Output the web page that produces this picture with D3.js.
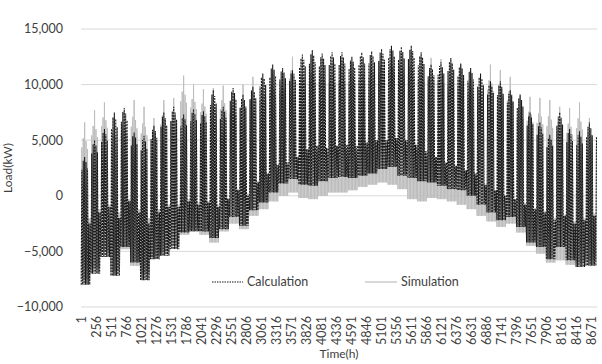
<!DOCTYPE html>
<html><head><meta charset="utf-8">
<script src="https://cdn.jsdelivr.net/npm/d3@7"></script>
<style>body{margin:0;background:#fff} text{font-family:Lato,"Open Sans",sans-serif;fill:#404040}</style>
</head><body><svg id="c" width="602" height="364"></svg>
<script>
// Weekly envelopes (kW), 52 weeks
const calcHigh=[3500,5000,6000,7500,7900,5700,5400,6300,7500,8000,7300,7800,7600,9500,8000,9700,9100,9800,11000,11800,11500,11300,12700,13100,12800,12900,12900,12500,12900,13000,13200,13500,13400,13500,12900,11800,12000,12400,11900,11500,11000,10300,10300,9500,9100,7500,6600,5500,7500,6000,5800,6600];
const calcLow=[-8000,-7000,-5500,-7200,-4600,-6000,-7600,-5700,-5400,-4800,-3300,-3200,-3200,-3800,-3000,-1900,-2700,-1300,-600,300,1100,1500,1000,900,1300,1600,1700,1600,1800,2000,2400,2600,1800,1600,1300,1200,900,600,500,0,-800,-1500,-2200,-1900,-2800,-4200,-4600,-5700,-4600,-5800,-6400,-6300];
const calcWkd=[-2500,-1500,-1000,-2000,-500,-1500,-2500,-1500,-1000,-1000,-500,-800,-600,-1000,-300,500,0,1200,2000,2800,3000,3500,4200,4500,4300,4500,4600,4500,4800,5000,5000,5200,5000,4600,4000,3500,3000,2700,2300,2000,1000,500,0,-300,-800,-1200,-1500,-2200,-1800,-2500,-2200,-1800];
const simHigh=[6600,7700,8400,7000,7600,8600,8000,7000,8600,8800,10800,10000,9600,9700,9900,9300,10000,10700,10500,11000,11000,12500,12000,12300,12300,12000,12200,12000,12300,12500,12800,13000,13000,13000,12500,12400,12300,11800,11800,11200,10800,11800,11300,10700,9000,8900,8800,8600,8000,7900,8400,7000];
const simLow=[-7500,-6500,-5000,-6800,-4800,-6300,-7000,-5500,-5000,-4500,-3500,-3000,-3500,-4200,-3200,-2500,-3000,-1800,-1200,-500,0,300,-200,-300,0,300,300,500,800,1000,1200,1000,600,-300,-500,-200,-300,-500,-800,-1200,-1800,-2300,-2800,-2500,-3300,-4500,-5200,-6000,-5800,-6200,-6000,-5800];
const simWkd=[-2000,-1200,-800,-1500,-300,-1200,-2000,-1200,-800,-800,-300,-600,-500,-800,-200,600,200,1300,2000,2600,2800,3200,3800,4000,3900,4100,4200,4100,4400,4600,4600,4800,4600,4200,3600,3200,2800,2500,2100,1800,900,400,0,-300,-700,-1100,-1400,-2000,-1700,-2300,-2000,-1600];
// weekday share of the weekly swing (Mon..Fri), read from stripe tops
const calcDayShape=[0.9,0.97,1,0.96,0.91];
const simDayShape=[0.84,0.9,1,0.88,0.83];
const xTicks=d3.range(1,8761,255);   // 1,256,...,8671
const yTicks=[-10000,-5000,0,5000,10000,15000];
const seriesNames=["Calculation","Simulation"];

const svg=d3.select("#c");
const x=d3.scaleLinear().domain([1,8760]).range([81,597]);
const y=d3.scaleLinear().domain([-10000,15000]).range([307,29]);

svg.append("g").selectAll("line").data(yTicks).join("line")
  .attr("x1",81).attr("x2",597).attr("y1",d=>y(d)).attr("y2",d=>y(d))
  .attr("stroke","#d9d9d9").attr("stroke-width",1);

svg.append("g").selectAll("text").data(yTicks).join("text")
  .attr("x",63).attr("y",d=>y(d)).attr("dy","0.35em").attr("text-anchor","end")
  .attr("font-size",12.5).text(d=>d3.format(",")(d));

svg.append("g").selectAll("text").data(xTicks).join("text")
  .attr("transform",d=>`translate(${x(d)+4.5},316) rotate(-90)`)
  .attr("text-anchor","end").attr("font-size",12.5).text(d=>d);

function build(high,low,wkd,shape){
  const pts=[];
  for(let d=0;d<365;d++){
    const w=Math.min(51,Math.floor(d/7));
    const k=d%7;
    const top=k>=5?wkd[w]:low[w]+shape[k]*(high[w]-low[w]);
    pts.push([d*24+5,low[w]]);
    pts.push([d*24+15,top]);
  }
  return pts;
}
const line=d3.line().x(d=>x(d[0])).y(d=>y(d[1]));
svg.append("path").datum(build(simHigh,simLow,simWkd,simDayShape)).attr("d",line)
  .attr("fill","none").attr("stroke","#bdbdbd").attr("stroke-width",1);
svg.append("path").datum(build(calcHigh,calcLow,calcWkd,calcDayShape)).attr("d",line)
  .attr("fill","none").attr("stroke","#1a1a1a").attr("stroke-width",1.1).attr("stroke-dasharray","2,1");

const lg=svg.append("g");
lg.append("line").attr("x1",212).attr("x2",243).attr("y1",282).attr("y2",282)
  .attr("stroke","#1a1a1a").attr("stroke-width",1.2).attr("stroke-dasharray","1.5,1");
lg.append("text").attr("x",247).attr("y",282).attr("dy","0.35em").attr("font-size",12.5).text(seriesNames[0]);
lg.append("line").attr("x1",365).attr("x2",397).attr("y1",282).attr("y2",282)
  .attr("stroke","#bfbfbf").attr("stroke-width",1.2);
lg.append("text").attr("x",401).attr("y",282).attr("dy","0.35em").attr("font-size",12.5).text(seriesNames[1]);

svg.append("text").attr("x",339).attr("y",358).attr("text-anchor","middle").attr("font-size",12).text("Time(h)");
svg.append("text").attr("transform","translate(12,168) rotate(-90)").attr("text-anchor","middle").attr("font-size",12).text("Load(kW)");
</script></body></html>
